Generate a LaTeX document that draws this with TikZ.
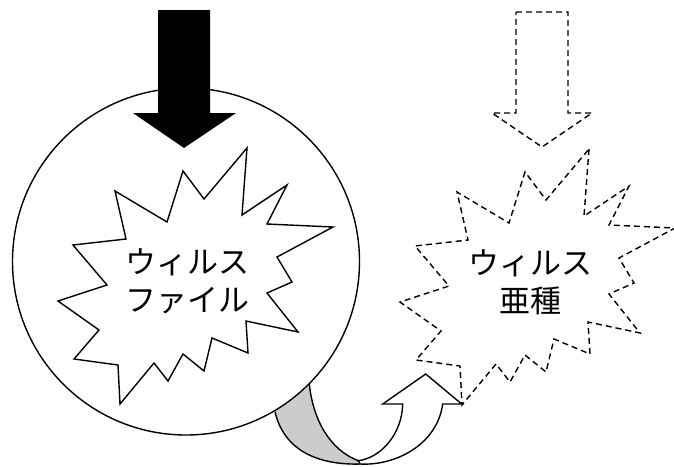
\documentclass[tikz,border=0pt]{standalone}
\usepackage{fontspec}
\newfontfamily\jpfont{Noto Sans CJK JP}
\usepackage{tikz}

\tikzset{
  outline/.style={line width=1.4pt,line join=miter},
  burstlabel/.style={align=center,inner sep=0pt,
    font=\jpfont\fontsize{31}{38}\selectfont},
  burst/.pic={
    \draw[outline,fill=white] (247,148)--(242,215)--(287,185)--(267,224)--(333,227)
      --(277,257)--(292,282)--(267,293)--(298,332)--(246,321)--(248,353)
      --(212,338)--(204,371)--(183,354)--(168,381)--(154,363)--(120,404)
      --(118,365)--(74,359)--(99,330)--(58,301)--(107,285)--(73,245)
      --(126,239)--(115,191)--(167,222)--(183,171)--(204,199)--cycle;
  }
}

\begin{document}
\begin{tikzpicture}[x=1pt,y=-1pt]
  \useasboundingbox (0,0) rectangle (674,466);
  %\draw[very thin,lightgray] (0,0) grid[step=50] (674,466);

  % band leaving the host
  \coordinate (a) at (275,411.7);
  \coordinate (b) at (360,464);
  \coordinate (c) at (309.3,384);
  \coordinate (d) at (358.3,460.7);
  \coordinate (e) at (442.7,404);
  \coordinate (f) at (402.7,404);
  \fill[gray!40] (a) .. controls (285,455) and (325,465) .. (b) -- (d)
    .. controls (330,450) and (313,420) .. (c) -- cycle;
  \draw[outline] (a) .. controls (285,455) and (325,465) .. (b);
  \draw[outline] (c) .. controls (313,420) and (330,450) .. (d);

  % host
  \node[outline,draw,fill=white,circle,minimum size=347pt,inner sep=0pt] (host) at (186,261.5) {};
  \pic at (0,0) {burst};
  \node[burstlabel] (file) at (187,281) {ウィルス\\ファイル};

  \fill (158,10)--(210,10)--(210,113)--(236,113)--(184,148)--(133,113)--(158,113)--cycle;

  % variant
  \pic[dashed,dash pattern=on 6pt off 4pt] at (342,1) {burst};
  \node[burstlabel] (variant) at (530,282) {ウィルス\\亜種};
  \draw[outline,dash pattern=on 6pt off 4pt] (516,12)--(568,12)--(568,113)--(592,113)
    --(542,147)--(492,113)--(516,113)--cycle;

  % arrow into the variant
  \draw[outline,fill=white] (d) .. controls (380,458) and (402,435) .. (f) -- (382.7,404)
    -- (425.7,374) -- (461.7,404) -- (e) .. controls (437,445) and (395,466) .. (b) -- cycle;
\end{tikzpicture}
\end{document}
